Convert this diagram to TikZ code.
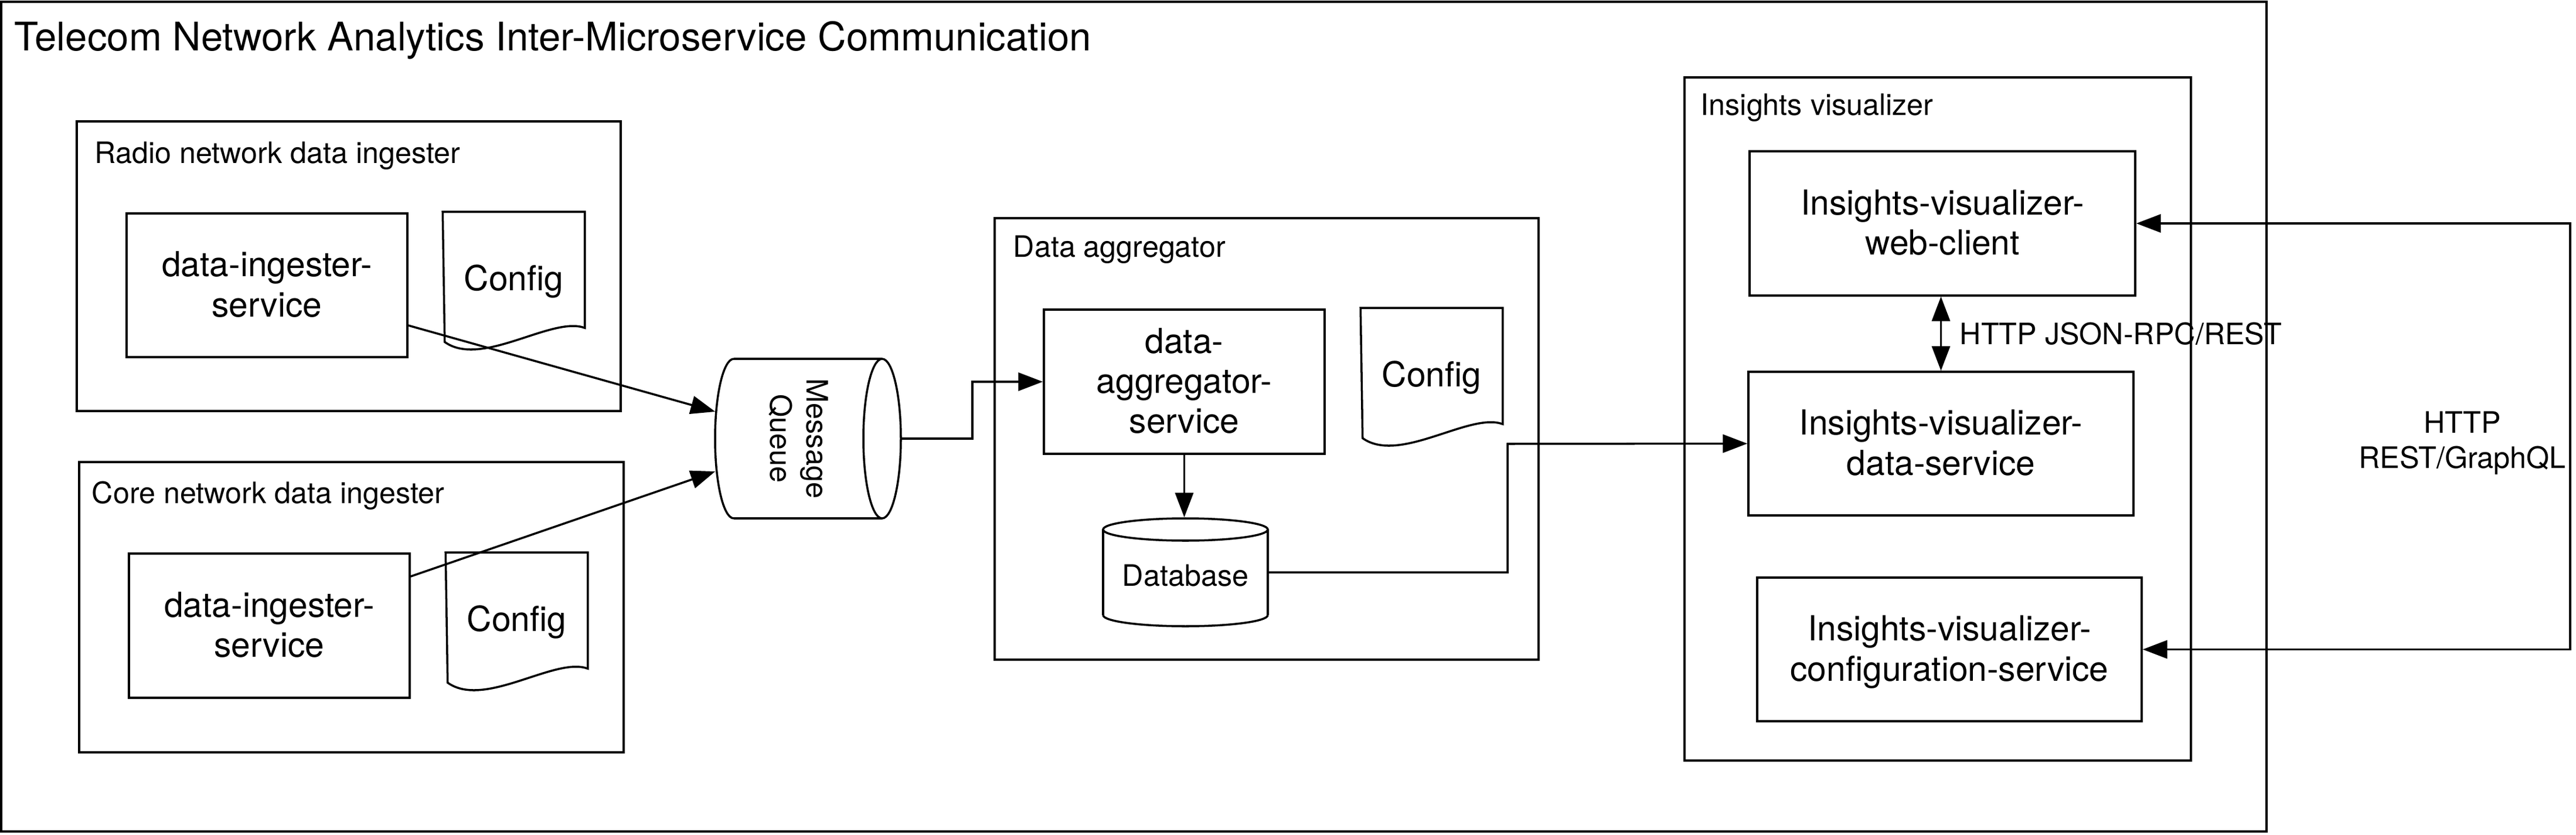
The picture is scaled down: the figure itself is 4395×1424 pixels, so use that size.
\documentclass[tikz,border=0pt]{standalone}
\usepackage{fontspec}
\setmainfont{TeX Gyre Heros}
\usetikzlibrary{arrows.meta,calc}
\newcommand{\docwave}[1]{\draw (#1.north west) -- (#1.north east) -- ++(0,198) .. controls +(-56,-21) and +(63,45) .. ++(-239,24) -- cycle;}
\newcommand{\hstrut}{\rule{0pt}{0.914em}}
\newcommand{\dstrut}{\rule[-0.25em]{0pt}{0.25em}}
\begin{document}
\begin{tikzpicture}[x=0.01cm,y=-0.01cm,line width=1pt,
  >={Triangle[length=11.9pt,width=8.8pt]},
  wh/.style 2 args={minimum width={#1*0.01cm},minimum height={#2*0.01cm}},
  frame/.style={draw,inner sep=0pt},
  ghost/.style={inner sep=0pt},
  bigtext/.style={font=\fontsize{16.7}{19.35}\selectfont,align=center},
  smalltext/.style={font=\fontsize{14.3}{17.6}\selectfont,align=center},
  grouplabel/.style={font=\fontsize{14.3}{17.6}\selectfont,anchor=base west,inner sep=0pt},
  titlelabel/.style={font=\fontsize{19.1}{23}\selectfont,anchor=base west,inner sep=0pt}
]
\useasboundingbox (0,0) rectangle (4395,1424);

% outer frame and title
\node[frame,wh={3865}{1415}] (outer) at (1934.5,710.5) {};
\node[titlelabel] (title) at (23,87) {Telecom Network Analytics Inter-Microservice Communication};

% radio ingester
\node[frame,wh={928}{494}] (radio) at (595,454) {};
\node[grouplabel] (radiolbl) at (160,278) {Radio network data ingester};
\node[frame,bigtext,wh={479}{245}] (ing1) at (455.5,486.5) {\hstrut data-ingester-\\service\dstrut};
\node[ghost,bigtext,wh={239}{225}] (cfg1) at (876.5,475.5) {\hstrut Config\dstrut};
\docwave{cfg1}

% core ingester
\node[frame,wh={929}{495}] (core) at (599.5,1035.5) {};
\node[grouplabel] (corelbl) at (155,858) {Core network data ingester};
\node[frame,bigtext,wh={479}{246}] (ing2) at (459.5,1067) {\hstrut data-ingester-\\service\dstrut};
\node[ghost,bigtext,wh={239}{225}] (cfg2) at (881.5,1056.5) {\hstrut Config\dstrut};
\docwave{cfg2}

% message queue
\node[ghost,wh={317}{272}] (mq) at (1378.5,748) {};
\draw (1252,612) -- (1505,612);
\draw (1252,884) -- (1505,884);
\draw (1505,748) ellipse [x radius=32, y radius=136];
\draw (1252,612) .. controls (1234.3,612) and (1220,672.9) .. (1220,748)
      .. controls (1220,823.1) and (1234.3,884) .. (1252,884);
\node[smalltext,rotate=-90] (mqtext) at (1362,748) {\hstrut Message\\Queue\dstrut};

% data aggregator
\node[frame,wh={928}{753}] (aggbox) at (2161,748.5) {};
\node[grouplabel] (agglbl) at (1727,438) {Data aggregator};
\node[frame,bigtext,wh={479}{246}] (agg) at (2020.5,651) {\hstrut data-\\aggregator-\\service\dstrut};
\node[ghost,bigtext,wh={239}{225}] (cfg3) at (2442.5,639.5) {\hstrut Config\dstrut};
\docwave{cfg3}
\node[ghost,smalltext,wh={281}{184}] (db) at (2022.5,976) {\hstrut\raisebox{-2pt}{Database}\dstrut};
\draw (2022.5,903) ellipse [x radius=140.5, y radius=19];
\draw (1882,903) -- (1882,1049);
\draw (2163,903) -- (2163,1049);
\draw (1882,1049) .. controls (1882,1059.5) and (1944.9,1068) .. (2022.5,1068)
      .. controls (2100.1,1068) and (2163,1059.5) .. (2163,1049);

% insights visualizer
\node[frame,wh={864}{1165}] (insights) at (3306,714.5) {};
\node[grouplabel] (inslbl) at (2900,196) {Insights visualizer};
\node[frame,bigtext,wh={658}{246}] (wc) at (3314,381) {\hstrut Insights-visualizer-\\web-client\dstrut};
\node[frame,bigtext,wh={657}{245}] (ds) at (3311.5,756.5) {\hstrut Insights-visualizer-\\data-service\dstrut};
\node[frame,bigtext,wh={656}{245}] (cs) at (3326,1107.5) {\hstrut Insights-visualizer-\\configuration-service\dstrut};
\node[grouplabel] (rpclbl) at (3342,587) {HTTP JSON-RPC/REST};
\node[smalltext,font=\fontsize{14.3}{16.9}\selectfont] (restlbl) at (4201,752) {\hstrut HTTP\\REST/GraphQL\dstrut};

% connectors
\draw[->] ($(ing1.east)+(0,68.5)$) -- ($(mq.west)+(2,-46)$);
\draw[->] ($(ing2.east)+(0,-84)$) -- ($(mq.west)+(2,56)$);
\coordinate (bendA) at (1659,651);
\draw[->] (mq.east) -| (bendA) -- (agg.west);
\draw[->] (agg.south) -- (agg.south |- db.north);
\coordinate (bendB) at (2572,757);
\draw[->] (db.east) -| (bendB) -- (ds.west);
\draw[<->] (ds.north) -- (ds.north |- wc.south);
\coordinate (bendC) at (4385,744);
\draw[<->] (wc.east) -| (bendC) |- (cs.east);
\end{tikzpicture}
\end{document}
